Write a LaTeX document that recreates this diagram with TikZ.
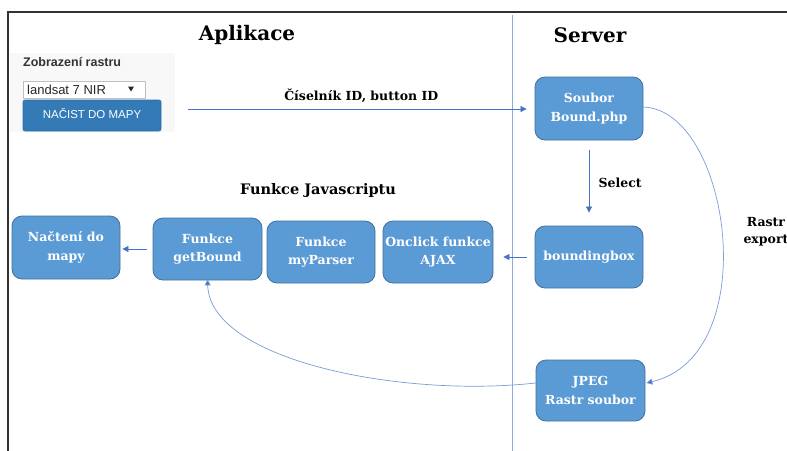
\documentclass[tikz,border=0pt]{standalone}
\usepackage{fontspec}
\setmainfont{DejaVu Serif}
\newfontfamily\uifont{Liberation Sans}
\usetikzlibrary{arrows.meta}
\definecolor{boxfill}{HTML}{5B9BD5}
\definecolor{boxedge}{HTML}{41719C}
\definecolor{flow}{HTML}{4472C4}
\definecolor{divider}{HTML}{8FAADC}
\definecolor{btnfill}{HTML}{337AB7}
\definecolor{btnedge}{HTML}{2E6DA4}
\definecolor{panel}{HTML}{F8F8F8}
\definecolor{frame}{HTML}{333333}
\tikzset{
  procbox/.style={draw=boxedge, line width=0.8pt, fill=boxfill, rounded corners=10pt,
    text=white, align=center, inner sep=0pt,
    font=\fontsize{12.5}{18.5}\selectfont\bfseries},
  flowarrow/.style={draw=flow, line width=0.7pt, -{Triangle[length=6pt,width=6pt]}},
  flowcurve/.style={draw=flow!70, line width=0.7pt, -{Triangle[length=6pt,width=6pt,fill=flow]}},
  heading/.style={font=\fontsize{20}{23}\selectfont\bfseries},
  tag/.style={font=\fontsize{12.5}{17}\selectfont\bfseries, align=center},
}
\begin{document}
\begin{tikzpicture}[x=1pt, y=-1pt]
\useasboundingbox (0,0) rectangle (787,450);
\fill[white] (0,0) rectangle (787,450);

% page frame and column divider
\draw[frame, line width=2pt] (8,451) -- (8,12) -- (788,12);
\draw[divider, line width=0.8pt] (512,15) -- (512,451);

% column headings
\node[heading] (app) at (247,35) {Aplikace};
\node[heading] (srv) at (590,35) {Server};

% raster selection widget
\fill[panel] (10,53) rectangle (175,132);
\node[font=\uifont\fontsize{12.5}{14}\selectfont\bfseries, text=black!80, anchor=west, inner sep=0pt]
  (wtitle) at (23,62) {Zobrazení rastru};
\draw[black!25, fill=white, line width=0.6pt] (23,81) rectangle (145,98);
\node[font=\uifont\fontsize{13}{15}\selectfont, text=black!85, anchor=west, inner sep=0pt]
  (wsel) at (27,89.5) {landsat 7 NIR};
\fill[black!85] (128,86.5) -- (134,86.5) -- (131,91.5) -- cycle;
\draw[btnedge, fill=btnfill, rounded corners=2pt, line width=0.6pt] (23,100) rectangle (161,131);
\node[font=\uifont\fontsize{11.5}{13}\selectfont, text=white, inner sep=0pt]
  (wbtn) at (92,114) {NAČIST DO MAPY};
\coordinate (wout) at (188,109);

% server side
\node[procbox, minimum width=108pt, minimum height=63pt] (soubor) at (589,108.5) {Soubor\\Bound.php};
\node[procbox, minimum width=108pt, minimum height=62pt] (bbox) at (589,257) {boundingbox};
\node[procbox, minimum width=109pt, minimum height=61pt] (jpeg) at (590.5,390.5) {JPEG\\Rastr soubor};

% application side
\node[font=\fontsize{14.5}{17}\selectfont\bfseries] (jsfun) at (318,190) {Funkce Javascriptu};
\node[procbox, minimum width=110pt, minimum height=62pt] (onclick) at (438,252) {Onclick funkce\\AJAX};
\node[procbox, minimum width=108pt, minimum height=62pt] (parser) at (321,252) {Funkce\\myParser};
\node[procbox, minimum width=109pt, minimum height=62pt] (getbound) at (207.5,249) {Funkce\\getBound};
\node[procbox, minimum width=108pt, minimum height=63pt] (nacteni) at (66,247.5) {Načtení do\\mapy};

% connectors
\draw[flowarrow, shorten >=8pt] (wout) -- (wout -| soubor.west)
  node[midway, above=3pt, tag] (lblids) {Číselník ID, button ID};
\draw[flowarrow, shorten <=10pt, shorten >=13pt] (soubor.south) -- (bbox.north)
  node[midway, right=6pt, tag] (lblsel) {Select};
\draw[flowarrow, shorten <=8pt, shorten >=10pt] (bbox.west) -- (bbox.west -| onclick.east);
\draw[flowarrow, shorten <=6pt, shorten >=2pt] (getbound.west) -- (getbound.west -| nacteni.east);

\draw[flowcurve] ([yshift=1.5pt]soubor.east) .. controls (730,110) and (765,355) .. ([xshift=1pt,yshift=7.5pt]jpeg.east);
\node[tag, anchor=west] (lblexp) at (740,232) {Rastr\\export};

\draw[flowcurve] ([yshift=7.5pt]jpeg.west) .. controls (400,398) and (210,360) .. ([yshift=1pt]getbound.south);
\end{tikzpicture}
\end{document}
